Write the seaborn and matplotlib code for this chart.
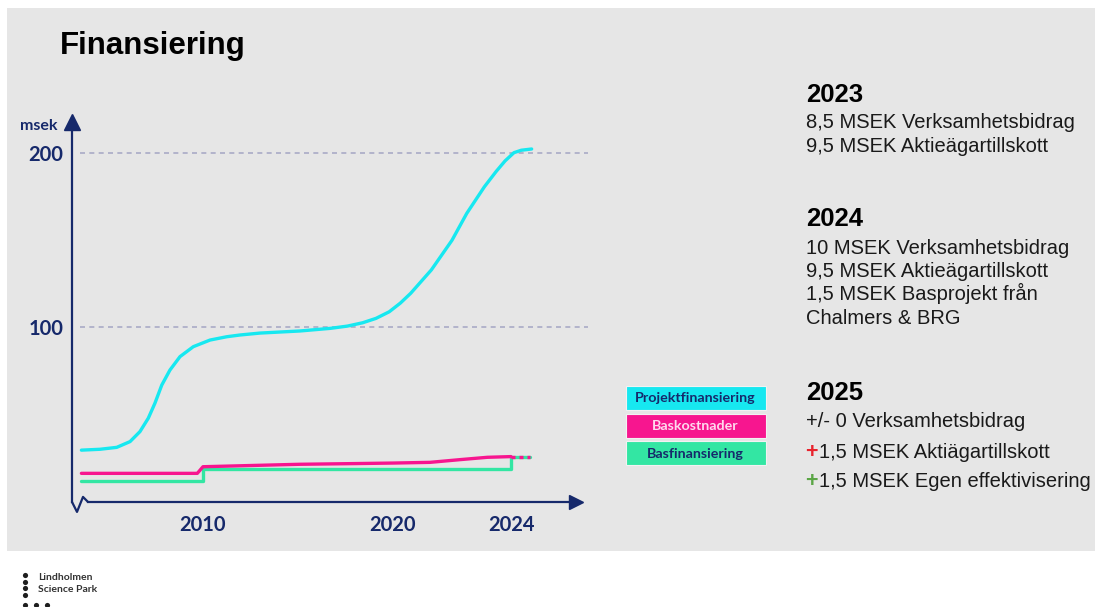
import numpy as np
import matplotlib.pyplot as plt
import seaborn as sns
from matplotlib.patches import Rectangle

W, H = 1095, 607

# ---- data ----
proj_years = [2003.6, 2004.58, 2005.46, 2006.16, 2006.68, 2007.12, 2007.47, 2007.83, 2008.26,
              2008.79, 2009.49, 2010.37, 2011.25, 2011.95, 2013.0, 2015.1, 2016.7, 2017.6,
              2018.4, 2019.1, 2019.8, 2020.25, 2020.6, 2021.3, 2022.0, 2022.5, 2023.1,
              2023.5, 2023.8, 2024.1, 2024.35, 2024.7]
proj_values = [29.7, 30.2, 31.3, 34.6, 40.3, 48.0, 56.6, 67.0, 75.6,
               83.3, 89.0, 92.8, 94.7, 95.7, 96.8, 98.0, 99.5, 100.8,
               102.7, 105.2, 109.0, 114.0, 119.6, 133.0, 150.0, 165.4, 180.7,
               189.5, 195.5, 200.2, 201.6, 202.3]

cost_years = [2003.6, 2009.7, 2010.0, 2015.1, 2018.0, 2020.0, 2021.25, 2022.3, 2023.2, 2024.0]
cost_values = [16.4, 16.4, 20.2, 21.6, 22.0, 22.3, 22.7, 24.3, 25.6, 26.0]

base_years = [2003.6, 2010.0, 2010.0, 2024.0, 2024.0, 2024.65]
base_values = [12.0, 12.0, 18.7, 18.7, 26.0, 26.0]

tail_years = [2024.0, 2024.65]
tail_values = [26.0, 26.0]

tick_years = [2010, 2020, 2024]
grid_values = [100, 200]

legend_labels = ['Projektfinansiering', 'Baskostnader', 'Basfinansiering']

# ---- colours ----
navy = '#16296b'
cyan = '#17e8f0'
pink = '#f7168f'
green = '#33e6a3'
grey_bg = '#e6e6e6'

sns.set_style('white')
plt.rcParams['font.family'] = ['Lato', 'DejaVu Sans']


# uneven time axis: 2010-2020 is compressed compared with 2020-2024
def fwd(y):
    y = np.asarray(y, dtype=float)
    return np.where(y <= 2020, 203 + (y - 2010) * 19.0, 393 + (y - 2020) * 29.5)


def inv(p):
    p = np.asarray(p, dtype=float)
    return np.where(p <= 393, 2010 + (p - 203) / 19.0, 2020 + (p - 393) / 29.5)


fig = plt.figure(figsize=(W / 100, H / 100), dpi=100)
fig.patch.set_facecolor('white')

# overlay in pixel coordinates for the slide decoration
bg = fig.add_axes([0, 0, 1, 1], zorder=0)
bg.set_xlim(0, W)
bg.set_ylim(H, 0)
bg.axis('off')
bg.add_patch(Rectangle((7, 8), W - 7, 551 - 8, facecolor=grey_bg, edgecolor='none'))

bg.text(60, 54, 'Finansiering', fontsize=22.5, fontweight='bold', family='Liberation Sans',
        color='black', va='baseline')

# ---- chart ----
ax = fig.add_axes([72 / W, 1 - 522.9 / H, 518 / W, 413.5 / H], zorder=1)
ax.set_facecolor('none')
ax.set_xscale('function', functions=(fwd, inv))
ax.set_xlim(float(inv(72)), float(inv(590)))
ax.set_ylim(-12, 225)

ax.hlines(grid_values, float(inv(80)), float(inv(588)), colors='#a9abc6',
          linestyles=(0, (3, 2.6)), lw=1.2, zorder=0.5)

sns.lineplot(x=proj_years, y=proj_values, ax=ax, color=cyan, lw=2.4,
             estimator=None, sort=False, zorder=3)
sns.lineplot(x=base_years, y=base_values, ax=ax, color=green, lw=2.4,
             estimator=None, sort=False, zorder=2)
sns.lineplot(x=cost_years, y=cost_values, ax=ax, color=pink, lw=2.4,
             estimator=None, sort=False, zorder=3)
sns.lineplot(x=tail_years, y=tail_values, ax=ax, color=pink, lw=2.4,
             estimator=None, sort=False, linestyle=(0, (1.2, 1.2)), zorder=3)

for s in ['top', 'right']:
    ax.spines[s].set_visible(False)
ax.spines['left'].set_bounds(0, 216)
ax.spines['bottom'].set_position(('data', 0))
ax.spines['bottom'].set_bounds(float(inv(88)), float(inv(577)))
for s in ['left', 'bottom']:
    ax.spines[s].set_color(navy)
    ax.spines[s].set_linewidth(1.6)

# arrow heads and axis break
ax.plot([float(inv(576))], [0], marker='>', ms=10, color=navy, clip_on=False)
ax.plot([float(inv(72))], [218], marker='^', ms=11, color=navy, clip_on=False)
ax.plot(inv([72, 77, 83, 88]), [0, -5.7, 2.9, 0], color=navy, lw=1.6, clip_on=False)

ax.set_xticks(tick_years)
ax.set_xticklabels([str(t) for t in tick_years])
ax.set_yticks(grid_values)
ax.set_yticklabels([str(v) for v in grid_values])
ax.tick_params(axis='x', direction='inout', length=11, width=1.6, color=navy,
               pad=4, labelsize=14.5, labelcolor=navy)
ax.tick_params(axis='y', length=0, pad=6.3, labelsize=14.5, labelcolor=navy)
for lbl in ax.get_xticklabels() + ax.get_yticklabels():
    lbl.set_fontweight('bold')
ax.set_xlabel('')
ax.set_ylabel('')
ax.minorticks_off()

bg.text(39, 129.5, 'msek', fontsize=11.5, fontweight='bold', color=navy,
        ha='center', va='baseline')

# ---- legend boxes ----
box_colors = [cyan, pink, green]
box_text = [navy, '#ffd9ee', navy]
box_tops = [386, 413.5, 441]
for lab, fc, tc, top in zip(legend_labels, box_colors, box_text, box_tops):
    bg.add_patch(Rectangle((625.5, top), 140, 24, facecolor=fc, edgecolor='#f2f2f2', lw=0.8))
    bg.text(695.5, top + 12.5, lab, fontsize=10.3, fontweight='bold', color=tc,
            ha='center', va='center')

# ---- right hand notes ----
tx = 806
body = dict(family='Liberation Sans', fontsize=14.5, color='#1a1a1a', va='baseline')
head = dict(family='Liberation Sans', fontsize=18.5, fontweight='bold', color='black',
            va='baseline')

bg.text(tx, 102, '2023', **head)
bg.text(tx, 128.5, '8,5 MSEK Verksamhetsbidrag', **body)
bg.text(tx, 152, '9,5 MSEK Aktieägartillskott', **body)

bg.text(tx, 226, '2024', **head)
bg.text(tx, 253.5, '10 MSEK Verksamhetsbidrag', **body)
bg.text(tx, 277, '9,5 MSEK Aktieägartillskott', **body)
bg.text(tx, 300.5, '1,5 MSEK Basprojekt från', **body)
bg.text(tx, 324, 'Chalmers & BRG', **body)

bg.text(tx, 400, '2025', **head)
bg.text(tx, 427, '+/- 0 Verksamhetsbidrag', **body)
bg.text(tx - 1, 457.5, '+', family='Liberation Sans', fontsize=15.5, fontweight='bold',
        color='#e8232d', va='baseline')
bg.text(tx + 13, 457.5, '1,5 MSEK Aktiägartillskott', **body)
bg.text(tx - 1, 487, '+', family='Liberation Sans', fontsize=15.5, fontweight='bold',
        color='#5ba646', va='baseline')
bg.text(tx + 13, 487, '1,5 MSEK Egen effektivisering', **body)

# ---- logo ----
dot_x = [25, 25, 25, 25, 25, 36, 47]
dot_y = [575, 581.5, 588, 595, 604.5, 604.5, 604.5]
bg.scatter(dot_x, dot_y, s=14, color='#1e1e1e', linewidths=0)
bg.text(38, 580.5, 'Lindholmen', fontsize=7.5, fontweight='bold', color='#333333',
        va='baseline')
bg.text(38, 591.5, 'Science Park', fontsize=7.5, fontweight='bold', color='#333333',
        va='baseline')

fig.savefig('out.png', dpi=100, facecolor=fig.get_facecolor())
